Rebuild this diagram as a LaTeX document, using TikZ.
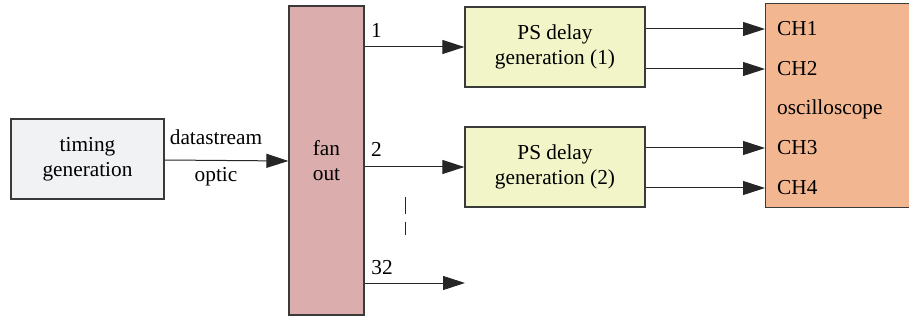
\documentclass[tikz,border=0pt]{standalone}
\usepackage{fontspec}
\setmainfont{Liberation Serif}
\usetikzlibrary{arrows.meta}
\definecolor{timingfill}{HTML}{F1F2F4}
\definecolor{fanfill}{HTML}{DBADAD}
\definecolor{psfill}{HTML}{F2F5C8}
\definecolor{scopefill}{HTML}{F2B690}
\definecolor{edge}{HTML}{3A3A3A}
\begin{document}
\begin{tikzpicture}[x=1pt,y=-1pt,
  every node/.style={font=\rmfamily\fontsize{21.3}{25.5}\selectfont},
  box/.style={draw=edge,line width=1.2pt,inner sep=0pt,align=center},
  link/.style={draw=black!85,line width=1pt,-{Triangle[length=22pt,width=14pt]}},
  lbl/.style={inner sep=0pt,anchor=base}]
\useasboundingbox (0,0) rectangle (909,320);
\clip (0,0) rectangle (909,320);
% blocks
\node[box,fill=timingfill,minimum width=153pt,minimum height=80pt] (tg) at (87.5,159) {timing\\generation};
\node[box,fill=fanfill,minimum width=75pt,minimum height=309pt] (fan) at (326.5,160.5) {fan\\out};
\node[box,fill=psfill,minimum width=180pt,minimum height=80pt] (ps1) at (555,47) {PS delay\\generation (1)};
\node[box,fill=psfill,minimum width=180pt,minimum height=80pt] (ps2) at (555,167) {PS delay\\generation (2)};
\node[box,fill=scopefill,minimum width=160pt,minimum height=204pt,anchor=north west] (osc) at (765,3) {};
% oscilloscope channel labels
\node[lbl,anchor=base west] (ch1) at (777,35.5) {CH1};
\node[lbl,anchor=base west] (ch2) at (777,76) {CH2};
\node[lbl,anchor=base west] (oscl) at (777,115) {oscilloscope};
\node[lbl,anchor=base west] (ch3) at (777,155) {CH3};
\node[lbl,anchor=base west] (ch4) at (777,195) {CH4};
% input link
\coordinate (tgout) at (tg.east |- 0,160);
\coordinate (fanin) at (fan.west |- 0,161);
\draw[link] (tgout) -- (fanin);
\node[lbl] (ds) at (216,145) {datastream};
\node[lbl] (op) at (216,182) {optic};
% fan-out links
\coordinate (o1) at (fan.east |- 0,47);
\coordinate (o2) at (fan.east |- 0,167);
\coordinate (o32) at (fan.east |- 0,283);
\coordinate (e32) at (465,283);
\draw[link] (o1) -- (ps1.west);
\draw[link] (o2) -- (ps2.west);
\draw[link] (o32) -- (e32);
\node[lbl] (n1) at (376.5,38) {1};
\node[lbl] (n2) at (376.5,157) {2};
\node[lbl] (n32) at (382,274) {32};
% omitted outputs
\coordinate (d1a) at (405,197);
\coordinate (d1b) at (405,214);
\coordinate (d2a) at (405,222);
\coordinate (d2b) at (405,235);
\draw[line width=1pt,black!85] (d1a) -- (d1b) (d2a) -- (d2b);
% delay outputs to scope
\coordinate (p1a) at (ps1.east |- 0,29);
\coordinate (p1b) at (ps1.east |- 0,69);
\coordinate (p2a) at (ps2.east |- 0,148);
\coordinate (p2b) at (ps2.east |- 0,188);
\draw[link] (p1a) -- (osc.west |- p1a);
\draw[link] (p1b) -- (osc.west |- p1b);
\draw[link] (p2a) -- (osc.west |- p2a);
\draw[link] (p2b) -- (osc.west |- p2b);
\end{tikzpicture}
\end{document}
